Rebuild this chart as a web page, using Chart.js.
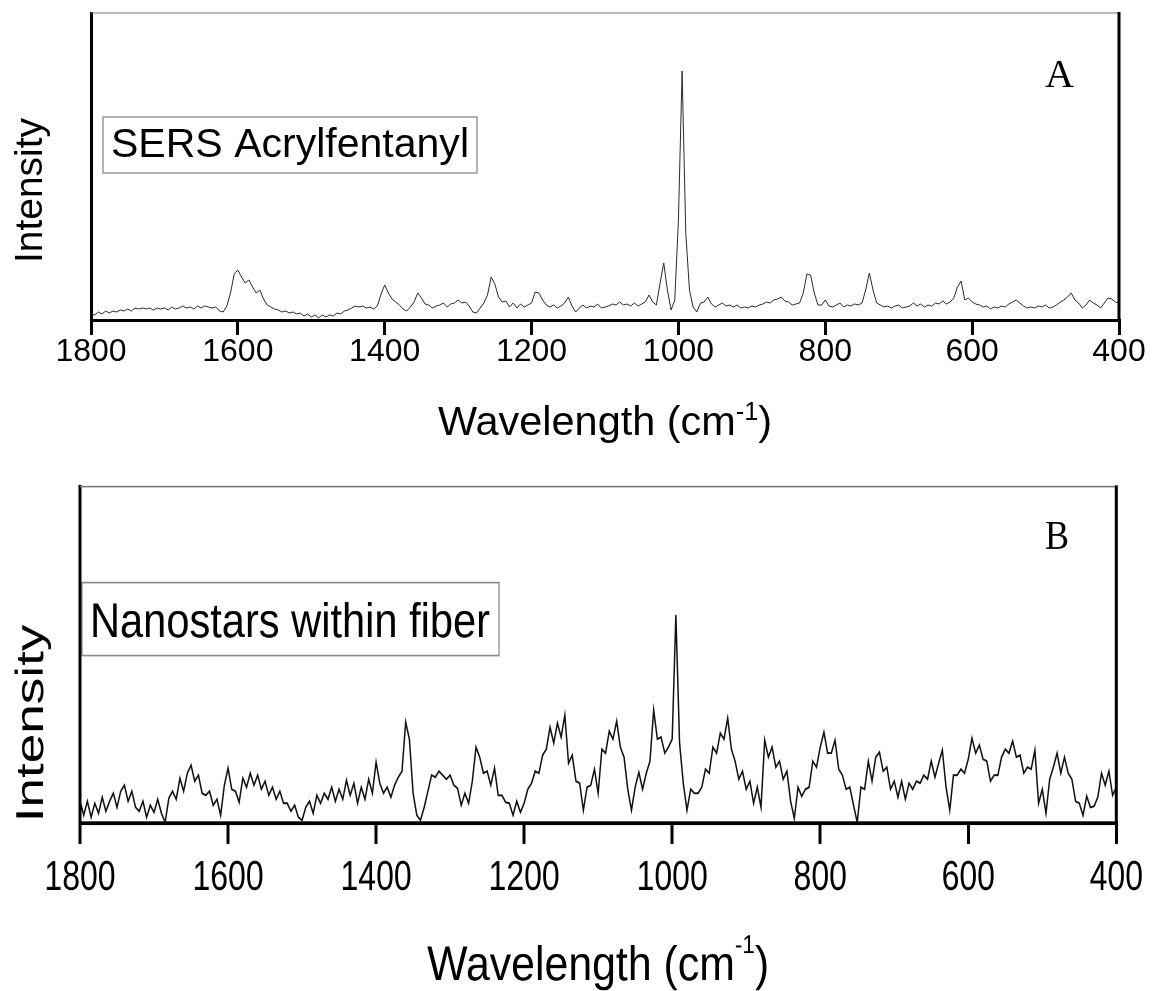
<!DOCTYPE html>
<html>
<head>
<meta charset="utf-8">
<title>SERS spectra</title>
<script src="https://cdn.jsdelivr.net/npm/chart.js@4/dist/chart.umd.min.js"></script>
<style>
  html, body { margin: 0; padding: 0; background: #fff; }
  body { width: 1154px; height: 991px; position: relative; overflow: hidden; }
  #chartA { position: absolute; left: 0; top: 0; }
  /* panel B of the original figure is stretched vertically */
  #wrapB { position: absolute; left: 0; top: 470px; width: 1154px; height: 407px;
           transform: scaleY(1.28); transform-origin: 0 0; }
</style>
</head>
<body>
<canvas id="chartA" width="1154" height="446"></canvas>
<div id="wrapB"><canvas id="chartB" width="1154" height="407"></canvas></div>

<script>
// Raman shift grid, 1800 -> 400 cm-1, one reading every 5 cm-1
var wavenumbers = [];
for (var w = 1800; w >= 400; w -= 5) wavenumbers.push(w);

var xTicks = [1800, 1600, 1400, 1200, 1000, 800, 600, 400];

// A: SERS Acrylfentanyl (arbitrary intensity)
var sersAcrylfentanyl = [
  7, 5, 8, 6, 9, 7, 9, 8, 10, 9, 11, 9, 12, 11, 12, 11, 12, 10, 12, 11,
  12, 10, 13, 11, 12, 14, 12, 13, 11, 14, 12, 14, 13, 12, 13, 9, 8, 14, 27, 46,
  50, 43, 37, 40, 33, 27, 30, 21, 15, 13, 11, 10, 8, 9, 7, 8, 6, 7, 4, 6,
  3, 5, 2, 5, 3, 5, 4, 7, 6, 9, 10, 12, 14, 13, 14, 12, 13, 11, 14, 26,
  35, 27, 21, 18, 15, 11, 9, 13, 18, 27, 22, 16, 15, 12, 14, 15, 17, 13, 16, 17,
  20, 17, 18, 14, 8, 7, 12, 17, 25, 43, 36, 23, 18, 19, 13, 17, 12, 16, 13, 15,
  17, 28, 27, 20, 15, 13, 15, 12, 14, 17, 23, 14, 8, 12, 15, 12, 14, 13, 16, 12,
  13, 14, 16, 15, 18, 15, 16, 14, 17, 14, 16, 18, 25, 18, 15, 37, 57, 30, 10, 20,
  100, 249, 87, 30, 13, 8, 17, 18, 23, 16, 13, 15, 17, 14, 15, 13, 15, 12, 13, 12,
  14, 13, 15, 16, 18, 17, 20, 21, 23, 19, 18, 15, 16, 17, 27, 46, 45, 27, 15, 15,
  20, 14, 13, 15, 17, 13, 15, 14, 16, 15, 17, 30, 47, 30, 17, 15, 13, 14, 12, 14,
  15, 12, 13, 14, 17, 14, 16, 13, 15, 14, 17, 16, 19, 16, 18, 22, 33, 39, 20, 22,
  18, 16, 15, 13, 14, 11, 13, 12, 14, 13, 16, 18, 20, 17, 14, 12, 13, 12, 14, 13,
  15, 12, 13, 15, 18, 20, 23, 27, 20, 17, 12, 15, 20, 17, 15, 12, 17, 22, 21, 18,
  17
];

// B: Nanostars within fiber
var nanostarsFiber = [
  23, 8, 22, 6, 20, 10, 26, 12, 22, 30, 16, 32, 38, 22, 32, 16, 12, 22, 6, 18,
  11, 24, 10, 1, 25, 32, 24, 45, 32, 50, 58, 42, 48, 30, 28, 32, 18, 24, 8, 38,
  55, 34, 32, 21, 45, 36, 50, 38, 48, 34, 42, 28, 36, 24, 32, 20, 20, 12, 18, 6,
  3, 16, 22, 10, 28, 20, 30, 24, 36, 22, 34, 24, 43, 28, 40, 20, 36, 24, 44, 30,
  61, 40, 30, 36, 26, 38, 46, 52, 101, 84, 30, 8, 3, 16, 32, 48, 46, 52, 48, 44,
  48, 38, 35, 18, 30, 20, 42, 76, 66, 50, 52, 38, 55, 28, 28, 21, 20, 8, 22, 11,
  20, 34, 40, 52, 50, 68, 74, 96, 80, 100, 86, 108, 60, 68, 42, 40, 13, 36, 38, 54,
  30, 74, 70, 92, 84, 102, 76, 66, 34, 13, 36, 51, 34, 50, 62, 113, 84, 86, 70, 76,
  84, 208, 80, 40, 13, 34, 30, 30, 36, 54, 50, 76, 70, 90, 84, 105, 74, 62, 44, 52,
  34, 42, 20, 36, 16, 83, 66, 76, 56, 62, 44, 52, 22, 5, 36, 27, 34, 36, 62, 56,
  76, 91, 70, 70, 83, 54, 48, 34, 36, 18, 1, 36, 34, 62, 42, 66, 71, 52, 56, 34,
  42, 26, 42, 24, 40, 34, 42, 40, 48, 44, 62, 46, 60, 73, 36, 13, 48, 48, 54, 50,
  64, 85, 70, 78, 64, 62, 42, 48, 48, 66, 74, 70, 82, 66, 68, 50, 56, 54, 73, 20,
  34, 10, 44, 56, 70, 50, 66, 50, 44, 22, 20, 8, 27, 16, 17, 26, 50, 38, 52, 28,
  36
];

var SANS = '"Liberation Sans", Arial, sans-serif';
var SERIF = '"Liberation Serif", "Times New Roman", serif';

// draw a string stretched/squeezed horizontally to a given width
function fitText(ctx, str, x, y, font, width) {
  ctx.font = font;
  var nat = ctx.measureText(str).width;
  ctx.save();
  ctx.translate(x, y);
  ctx.scale(width / nat, 1);
  ctx.textAlign = 'left';
  ctx.textBaseline = 'alphabetic';
  ctx.fillText(str, 0, 0);
  ctx.restore();
}

function decor(d) {
  return {
    id: 'decor',
    afterDraw: function(chart) {
      var ctx = chart.ctx, a = chart.chartArea;
      ctx.save();

      // top frame (thin grey) and right axis (thick black)
      ctx.strokeStyle = '#777';
      ctx.lineWidth = 1.2;
      ctx.beginPath();
      ctx.moveTo(a.left, a.top);
      ctx.lineTo(a.right, a.top);
      ctx.stroke();
      ctx.strokeStyle = '#000';
      ctx.lineWidth = 3;
      ctx.beginPath();
      ctx.moveTo(a.right, a.top - 1);
      ctx.lineTo(a.right, a.bottom);
      ctx.stroke();

      ctx.fillStyle = '#000';

      // labelled box
      var b = d.box;
      ctx.strokeStyle = '#8a8a8a';
      ctx.lineWidth = 1.3;
      ctx.strokeRect(b.x, b.y, b.w, b.h);
      fitText(ctx, b.text, b.tx, b.ty, b.size + 'px ' + SANS, b.width);

      // panel letter
      var l = d.letter;
      fitText(ctx, l.text, l.x, l.y, l.size + 'px ' + SERIF, l.width);

      // y title
      var t = d.yTitle;
      ctx.font = t.size + 'px ' + SANS;
      var nat = ctx.measureText(t.text).width;
      ctx.save();
      ctx.translate(t.x, t.y);
      ctx.rotate(-Math.PI / 2);
      ctx.scale(t.length / nat, 1);
      ctx.textAlign = 'center';
      ctx.textBaseline = 'alphabetic';
      ctx.fillText(t.text, 0, 0);
      ctx.restore();

      // x title with superscript
      var x = d.xTitle;
      var mainFont = x.size + 'px ' + SANS, supFont = x.supSize + 'px ' + SANS;
      ctx.font = mainFont;
      var w1 = ctx.measureText(x.main).width, w3 = ctx.measureText(x.close).width;
      ctx.font = supFont;
      var w2 = ctx.measureText(x.sup).width;
      var k = x.width / (w1 + w2 + w3);
      ctx.save();
      ctx.translate((a.left + a.right) / 2 - x.width / 2, x.y);
      ctx.scale(k, 1);
      ctx.textAlign = 'left';
      ctx.textBaseline = 'alphabetic';
      ctx.font = mainFont;
      ctx.fillText(x.main, 0, 0);
      ctx.font = supFont;
      ctx.fillText(x.sup, w1, -x.rise);
      ctx.font = mainFont;
      ctx.fillText(x.close, w1 + w2, 0);
      ctx.restore();

      ctx.restore();
    }
  };
}

function spectrumChart(id, values, c) {
  var points = wavenumbers.map(function(w, i) { return { x: w, y: values[i] }; });
  return new Chart(document.getElementById(id), {
    type: 'line',
    data: {
      datasets: [{
        data: points,
        borderColor: c.lineColor,
        borderWidth: c.lineWidth,
        pointRadius: 0,
        tension: 0,
        fill: false
      }]
    },
    options: {
      responsive: false,
      animation: false,
      devicePixelRatio: c.dpr,
      layout: { padding: c.padding },
      plugins: { legend: { display: false }, tooltip: { enabled: false } },
      scales: {
        x: {
          type: 'linear',
          reverse: true,
          min: 400,
          max: 1800,
          afterBuildTicks: function(s) { s.ticks = xTicks.map(function(v) { return { value: v }; }); },
          ticks: {
            autoSkip: false,
            maxRotation: 0,
            padding: c.tickPad,
            color: '#000',
            font: { family: SANS, size: 32, lineHeight: 1 },
            callback: function(v) { return String(v); }
          },
          grid: { drawOnChartArea: false, drawTicks: true, tickLength: c.tickLen, color: '#000', lineWidth: 3 },
          border: { display: true, color: '#000', width: 3 },
          afterFit: function(s) { s.height = c.xHeight; }
        },
        y: {
          min: 0,
          max: c.yMax,
          ticks: { display: false },
          grid: { display: false },
          border: { display: true, color: '#000', width: 3 },
          afterFit: function(s) { s.width = c.yWidth; }
        }
      }
    },
    plugins: [decor(c.decor)]
  });
}

spectrumChart('chartA', sersAcrylfentanyl, {
  lineColor: '#2a2a2a', lineWidth: 1, dpr: 1,
  padding: { left: 0, right: 35, top: 13, bottom: 0 },
  tickPad: 1, tickLen: 15, xHeight: 126, yWidth: 91, yMax: 307,
  decor: {
    box: { x: 103, y: 117, w: 374, h: 56, text: 'SERS Acrylfentanyl', tx: 111, ty: 157, size: 40, width: 358 },
    letter: { text: 'A', x: 1045, y: 87, size: 40, width: 29 },
    yTitle: { text: 'Intensity', x: 42, y: 190.5, size: 39, length: 145 },
    xTitle: { main: 'Wavelength (cm', sup: '-1', close: ')', y: 435, size: 41, supSize: 25, rise: 15, width: 334 }
  }
});

spectrumChart('chartB', nanostarsFiber, {
  lineColor: '#111', lineWidth: 1.5, dpr: 2,
  padding: { left: 0, right: 32, top: 13, bottom: 0 },
  tickPad: 11, tickLen: 16, xHeight: 131, yWidth: 80, yMax: 336,
  decor: {
    box: { x: 82, y: 88, w: 417, h: 57, text: 'Nanostars within fiber', tx: 90, ty: 130.5, size: 38, width: 400 },
    letter: { text: 'B', x: 1045, y: 61.7, size: 32, width: 24 },
    yTitle: { text: 'Intensity', x: 43, y: 198, size: 39, length: 154.5 },
    xTitle: { main: 'Wavelength (cm', sup: '-1', close: ')', y: 398.4, size: 38, supSize: 20, rise: 21, width: 342 }
  }
});
</script>
</body>
</html>
